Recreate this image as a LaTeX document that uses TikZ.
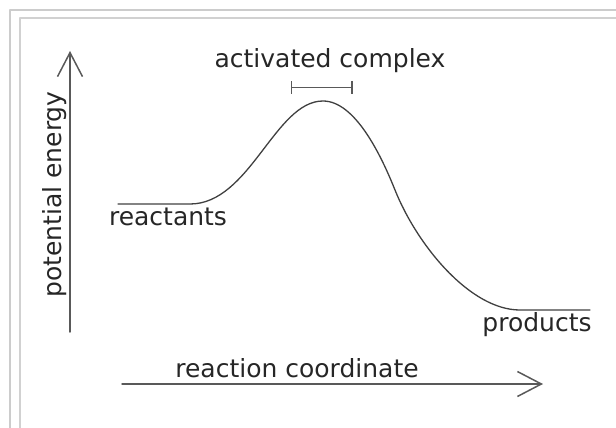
\documentclass[tikz,border=0pt]{standalone}
\usepackage{fontspec}
\setmainfont{DejaVu Sans}
\usetikzlibrary{arrows.meta}

\begin{document}
\begin{tikzpicture}[x=1pt, y=-1pt, line cap=round, line join=round,
  axis/.style={draw=black!65, line width=1.5pt, -{Straight Barb[length=24pt,width=25pt]}},
  lbl/.style={text=black!85, font=\fontsize{25}{30}\selectfont, inner sep=0pt, anchor=base}]

\useasboundingbox (0,0) rectangle (616,428);

% Frame
\draw[black!20, line width=2pt] (10,440) -- (10,10) -- (630,10);
\draw[black!18, line width=1.5pt] (20,440) -- (20,18) -- (630,18);

% Axes
\coordinate (ybot) at (70,332);
\coordinate (ytop) at (70,51);
\coordinate (xleft) at (122,384);
\coordinate (xright) at (543,384);
\draw[axis] (ybot) -- (ytop);
\draw[axis] (xleft) -- (xright);

% Labels on axes
\node[lbl, rotate=90] (energy) at (61.5,194.5) {potential energy};
\node[lbl] (coord) at (297,377) {reaction coordinate};

% Energy curve
\draw[black!75, line width=1.3pt] (118,204) -- (190,204)
  .. controls (250,204) and (275,101) .. (323,101)
  .. controls (355,101) and (381,155) .. (395,190)
  .. controls (417,245) and (470,310) .. (520,310) -- (590,310);

% Labels for curve
\node[lbl] (reactants) at (168,225) {reactants};
\node[lbl] (products) at (537,331.5) {products};
\node[lbl] (complex) at (330,67.3) {activated complex};

% Bracket over the peak
\coordinate (brleft) at (291,87.3);
\coordinate (brright) at (352.7,87.3);
\draw[black!65, line width=1.3pt, {Bar[width=13pt]}-{Bar[width=13pt]}] (brleft) -- (brright);

\end{tikzpicture}
\end{document}
